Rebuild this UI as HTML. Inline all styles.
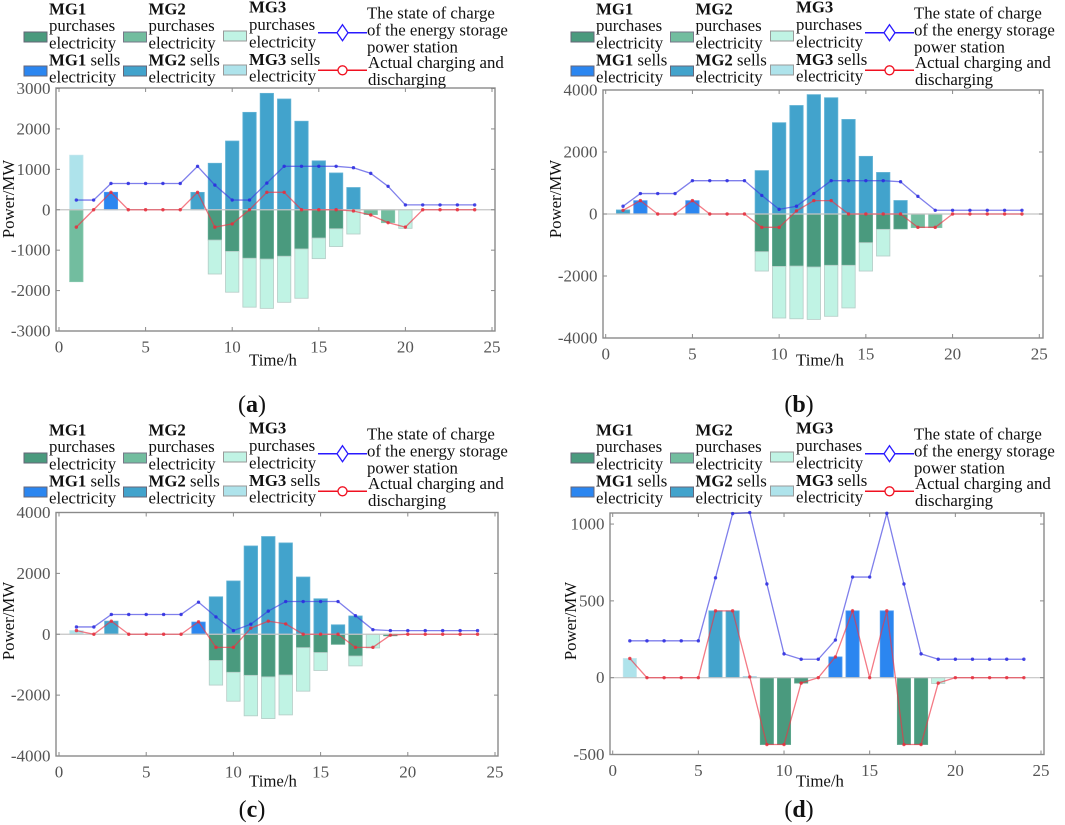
<!DOCTYPE html>
<html lang="en">
<head>
<meta charset="utf-8">
<title>Energy storage power charts</title>
<style>
html,body{margin:0;padding:0;background:#fff;}
svg{display:block;font-family:"Liberation Serif",serif;}
.lg{font-size:16.8px;fill:#111;}
.lg tspan.b{font-weight:bold;}
.axt{font-size:16.8px;fill:#111;}
.cap{font-size:24px;fill:#111;text-anchor:middle;}
.cap tspan{font-weight:bold;}
.tick{font-size:17px;fill:#555;}
#plots{filter:blur(0.35px);}
</style>
</head>
<body>
<svg id="figure" xmlns="http://www.w3.org/2000/svg" width="1065" height="825" viewBox="0 0 1065 825">
<rect width="1065" height="825" fill="#fff"/>
<g id="plots"></g>

<g transform="translate(0,0)">
  <g><rect x="24" y="32" width="23" height="10" fill="#4a9a7e" stroke="#667" stroke-width="1"/><text class="lg" x="49" y="14.3"><tspan class="b">MG1</tspan></text><text class="lg" x="49" y="31">purchases</text><text class="lg" x="49" y="48.3">electricity</text></g>
  <g><rect x="123.500" y="32" width="23" height="10" fill="#72bd9f" stroke="#778" stroke-width="1"/><text class="lg" x="148.500" y="14.3"><tspan class="b">MG2</tspan></text><text class="lg" x="148.500" y="31">purchases</text><text class="lg" x="148.500" y="48.3">electricity</text></g>
  <g><rect x="223.500" y="31" width="23" height="10" fill="#c0f3e4" stroke="#999" stroke-width="1"/><text class="lg" x="249" y="12.700"><tspan class="b">MG3</tspan></text><text class="lg" x="249" y="30">purchases</text><text class="lg" x="249" y="47.700">electricity</text></g>
  <g><rect x="24" y="66" width="23" height="10" fill="#2b86f0" stroke="#667" stroke-width="1"/><text class="lg" x="49" y="65.700"><tspan class="b">MG1</tspan> sells</text><text class="lg" x="49" y="82.300">electricity</text></g>
  <g><rect x="123.500" y="66" width="23" height="10" fill="#42a3cc" stroke="#667" stroke-width="1"/><text class="lg" x="148.500" y="65.700"><tspan class="b">MG2</tspan> sells</text><text class="lg" x="148.500" y="82.300">electricity</text></g>
  <g><rect x="223.500" y="65" width="23" height="10" fill="#aee3eb" stroke="#999" stroke-width="1"/><text class="lg" x="249" y="65"><tspan class="b">MG3</tspan> sells</text><text class="lg" x="249" y="81.700">electricity</text></g>
  <g><line x1="318" y1="32.700" x2="367" y2="32.700" stroke="#2a1aff" stroke-width="1.500"/><path d="M342.500 24.700 L348 32.700 L342.500 40.700 L337 32.700 Z" fill="#fff" stroke="#2a1aff" stroke-width="1.300"/><text class="lg" x="367" y="18.300">The state of charge</text><text class="lg" x="367" y="35.300">of the energy storage</text><text class="lg" x="367" y="52.300">power station</text></g>
  <g><line x1="318" y1="70.300" x2="367" y2="70.300" stroke="#f01020" stroke-width="1.500"/><circle cx="342.500" cy="70.300" r="4.500" fill="#fff" stroke="#f01020" stroke-width="1.300"/><text class="lg" x="368" y="68">Actual charging and</text><text class="lg" x="368" y="85">discharging</text></g>
</g>

<g transform="translate(547,0)">
  <g><rect x="24" y="32" width="23" height="10" fill="#4a9a7e" stroke="#667" stroke-width="1"/><text class="lg" x="49" y="14.3"><tspan class="b">MG1</tspan></text><text class="lg" x="49" y="31">purchases</text><text class="lg" x="49" y="48.3">electricity</text></g>
  <g><rect x="123.500" y="32" width="23" height="10" fill="#72bd9f" stroke="#778" stroke-width="1"/><text class="lg" x="148.500" y="14.3"><tspan class="b">MG2</tspan></text><text class="lg" x="148.500" y="31">purchases</text><text class="lg" x="148.500" y="48.3">electricity</text></g>
  <g><rect x="223.500" y="31" width="23" height="10" fill="#c0f3e4" stroke="#999" stroke-width="1"/><text class="lg" x="249" y="12.700"><tspan class="b">MG3</tspan></text><text class="lg" x="249" y="30">purchases</text><text class="lg" x="249" y="47.700">electricity</text></g>
  <g><rect x="24" y="66" width="23" height="10" fill="#2b86f0" stroke="#667" stroke-width="1"/><text class="lg" x="49" y="65.700"><tspan class="b">MG1</tspan> sells</text><text class="lg" x="49" y="82.300">electricity</text></g>
  <g><rect x="123.500" y="66" width="23" height="10" fill="#42a3cc" stroke="#667" stroke-width="1"/><text class="lg" x="148.500" y="65.700"><tspan class="b">MG2</tspan> sells</text><text class="lg" x="148.500" y="82.300">electricity</text></g>
  <g><rect x="223.500" y="65" width="23" height="10" fill="#aee3eb" stroke="#999" stroke-width="1"/><text class="lg" x="249" y="65"><tspan class="b">MG3</tspan> sells</text><text class="lg" x="249" y="81.700">electricity</text></g>
  <g><line x1="318" y1="32.700" x2="367" y2="32.700" stroke="#2a1aff" stroke-width="1.500"/><path d="M342.500 24.700 L348 32.700 L342.500 40.700 L337 32.700 Z" fill="#fff" stroke="#2a1aff" stroke-width="1.300"/><text class="lg" x="367" y="18.300">The state of charge</text><text class="lg" x="367" y="35.300">of the energy storage</text><text class="lg" x="367" y="52.300">power station</text></g>
  <g><line x1="318" y1="70.300" x2="367" y2="70.300" stroke="#f01020" stroke-width="1.500"/><circle cx="342.500" cy="70.300" r="4.500" fill="#fff" stroke="#f01020" stroke-width="1.300"/><text class="lg" x="368" y="68">Actual charging and</text><text class="lg" x="368" y="85">discharging</text></g>
</g>

<g transform="translate(0,421)">
  <g><rect x="24" y="32" width="23" height="10" fill="#4a9a7e" stroke="#667" stroke-width="1"/><text class="lg" x="49" y="14.3"><tspan class="b">MG1</tspan></text><text class="lg" x="49" y="31">purchases</text><text class="lg" x="49" y="48.3">electricity</text></g>
  <g><rect x="123.500" y="32" width="23" height="10" fill="#72bd9f" stroke="#778" stroke-width="1"/><text class="lg" x="148.500" y="14.3"><tspan class="b">MG2</tspan></text><text class="lg" x="148.500" y="31">purchases</text><text class="lg" x="148.500" y="48.3">electricity</text></g>
  <g><rect x="223.500" y="31" width="23" height="10" fill="#c0f3e4" stroke="#999" stroke-width="1"/><text class="lg" x="249" y="12.700"><tspan class="b">MG3</tspan></text><text class="lg" x="249" y="30">purchases</text><text class="lg" x="249" y="47.700">electricity</text></g>
  <g><rect x="24" y="66" width="23" height="10" fill="#2b86f0" stroke="#667" stroke-width="1"/><text class="lg" x="49" y="65.700"><tspan class="b">MG1</tspan> sells</text><text class="lg" x="49" y="82.300">electricity</text></g>
  <g><rect x="123.500" y="66" width="23" height="10" fill="#42a3cc" stroke="#667" stroke-width="1"/><text class="lg" x="148.500" y="65.700"><tspan class="b">MG2</tspan> sells</text><text class="lg" x="148.500" y="82.300">electricity</text></g>
  <g><rect x="223.500" y="65" width="23" height="10" fill="#aee3eb" stroke="#999" stroke-width="1"/><text class="lg" x="249" y="65"><tspan class="b">MG3</tspan> sells</text><text class="lg" x="249" y="81.700">electricity</text></g>
  <g><line x1="318" y1="32.700" x2="367" y2="32.700" stroke="#2a1aff" stroke-width="1.500"/><path d="M342.500 24.700 L348 32.700 L342.500 40.700 L337 32.700 Z" fill="#fff" stroke="#2a1aff" stroke-width="1.300"/><text class="lg" x="367" y="18.300">The state of charge</text><text class="lg" x="367" y="35.300">of the energy storage</text><text class="lg" x="367" y="52.300">power station</text></g>
  <g><line x1="318" y1="70.300" x2="367" y2="70.300" stroke="#f01020" stroke-width="1.500"/><circle cx="342.500" cy="70.300" r="4.500" fill="#fff" stroke="#f01020" stroke-width="1.300"/><text class="lg" x="368" y="68">Actual charging and</text><text class="lg" x="368" y="85">discharging</text></g>
</g>

<g transform="translate(547,421)">
  <g><rect x="24" y="32" width="23" height="10" fill="#4a9a7e" stroke="#667" stroke-width="1"/><text class="lg" x="49" y="14.3"><tspan class="b">MG1</tspan></text><text class="lg" x="49" y="31">purchases</text><text class="lg" x="49" y="48.3">electricity</text></g>
  <g><rect x="123.500" y="32" width="23" height="10" fill="#72bd9f" stroke="#778" stroke-width="1"/><text class="lg" x="148.500" y="14.3"><tspan class="b">MG2</tspan></text><text class="lg" x="148.500" y="31">purchases</text><text class="lg" x="148.500" y="48.3">electricity</text></g>
  <g><rect x="223.500" y="31" width="23" height="10" fill="#c0f3e4" stroke="#999" stroke-width="1"/><text class="lg" x="249" y="12.700"><tspan class="b">MG3</tspan></text><text class="lg" x="249" y="30">purchases</text><text class="lg" x="249" y="47.700">electricity</text></g>
  <g><rect x="24" y="66" width="23" height="10" fill="#2b86f0" stroke="#667" stroke-width="1"/><text class="lg" x="49" y="65.700"><tspan class="b">MG1</tspan> sells</text><text class="lg" x="49" y="82.300">electricity</text></g>
  <g><rect x="123.500" y="66" width="23" height="10" fill="#42a3cc" stroke="#667" stroke-width="1"/><text class="lg" x="148.500" y="65.700"><tspan class="b">MG2</tspan> sells</text><text class="lg" x="148.500" y="82.300">electricity</text></g>
  <g><rect x="223.500" y="65" width="23" height="10" fill="#aee3eb" stroke="#999" stroke-width="1"/><text class="lg" x="249" y="65"><tspan class="b">MG3</tspan> sells</text><text class="lg" x="249" y="81.700">electricity</text></g>
  <g><line x1="318" y1="32.700" x2="367" y2="32.700" stroke="#2a1aff" stroke-width="1.500"/><path d="M342.500 24.700 L348 32.700 L342.500 40.700 L337 32.700 Z" fill="#fff" stroke="#2a1aff" stroke-width="1.300"/><text class="lg" x="367" y="18.300">The state of charge</text><text class="lg" x="367" y="35.300">of the energy storage</text><text class="lg" x="367" y="52.300">power station</text></g>
  <g><line x1="318" y1="70.300" x2="367" y2="70.300" stroke="#f01020" stroke-width="1.500"/><circle cx="342.500" cy="70.300" r="4.500" fill="#fff" stroke="#f01020" stroke-width="1.300"/><text class="lg" x="368" y="68">Actual charging and</text><text class="lg" x="368" y="85">discharging</text></g>
</g>

<text class="axt" text-anchor="middle" transform="translate(14,199) rotate(-90)">Power/MW</text>
<text class="axt" text-anchor="middle" transform="translate(561,199) rotate(-90)">Power/MW</text>
<text class="axt" text-anchor="middle" transform="translate(14,621) rotate(-90)">Power/MW</text>
<text class="axt" text-anchor="middle" transform="translate(576,621) rotate(-90)">Power/MW</text>

<text class="axt" text-anchor="middle" x="273" y="365.500">Time/h</text>
<text class="axt" text-anchor="middle" x="820" y="365.500">Time/h</text>
<text class="axt" text-anchor="middle" x="273" y="786.500">Time/h</text>
<text class="axt" text-anchor="middle" x="820" y="786.500">Time/h</text>

<text class="cap" x="252" y="412">(<tspan>a</tspan>)</text>
<text class="cap" x="799" y="412">(<tspan>b</tspan>)</text>
<text class="cap" x="252" y="817">(<tspan>c</tspan>)</text>
<text class="cap" x="799" y="817">(<tspan>d</tspan>)</text>
</svg>

<script>
// Shared categories and ticks
const hours = [1,2,3,4,5,6,7,8,9,10,11,12,13,14,15,16,17,18,19,20,21,22,23,24];
const xTicks = [0,5,10,15,20,25];

// Panel (a)
const aYTicks = [-3000,-2000,-1000,0,1000,2000,3000];
const aMg1Buy  = [0,0,0,0,0,0,0,0,-750,-1030,-1200,-1220,-1150,-970,-700,-470,0,0,0,0,0,0,0,0];
const aMg2Buy  = [-1780,0,0,0,0,0,0,0,0,0,0,0,0,0,0,0,0,-120,-320,0,0,0,0,0];
const aMg3Buy  = [0,0,0,0,0,0,0,0,-840,-1010,-1210,-1220,-1140,-1220,-510,-440,-600,0,0,-460,0,0,0,0];
const aMg1Sell = [0,0,432,0,0,0,0,0,0,0,0,0,0,0,0,0,0,0,0,0,0,0,0,0];
const aMg2Sell = [0,0,0,0,0,0,0,430,1150,1700,2410,2880,2740,2190,1210,910,550,0,0,0,0,0,0,0];
const aMg3Sell = [1350,0,0,0,0,0,0,0,0,0,0,0,0,0,0,0,0,0,0,0,0,0,0,0];
const aSoc     = [240,240,650,650,650,650,650,1075,610,240,240,660,1075,1075,1075,1075,1040,900,580,120,120,120,120,120];
const aCharge  = [-430,0,432,0,0,0,0,432,-430,-350,0,432,432,0,0,0,-30,-130,-320,-430,0,0,0,0];

// Panel (b)
const bYTicks = [-4000,-2000,0,2000,4000];
const bMg1Buy  = [0,0,0,0,0,0,0,0,-1215,-1690,-1680,-1710,-1655,-1655,-925,-495,-480,0,0,0,0,0,0,0];
const bMg2Buy  = [0,0,0,0,0,0,0,0,0,0,0,0,0,0,0,0,0,-440,-440,0,0,0,0,0];
const bMg3Buy  = [0,0,0,0,0,0,0,0,-625,-1665,-1700,-1690,-1645,-1375,-915,-860,0,0,0,0,0,0,0,0];
const bMg1Sell = [0,430,0,0,430,0,0,0,0,0,0,0,0,0,0,0,0,0,0,0,0,0,0,0];
const bMg2Sell = [130,0,0,0,0,0,0,0,1400,2945,3500,3850,3750,3050,1860,1340,435,0,0,0,0,0,0,0];
const bMg3Sell = [0,0,0,0,0,0,0,0,0,0,0,0,0,0,0,0,0,0,0,0,0,0,0,0];
const bSoc     = [250,660,660,660,1075,1075,1075,1075,600,150,250,660,1075,1075,1075,1075,1040,570,120,120,120,120,120,120];
const bCharge  = [120,432,0,0,432,0,0,0,-430,-430,100,432,432,0,0,0,0,-430,-430,0,0,0,0,0];

// Panel (c)
const cYTicks = [-4000,-2000,0,2000,4000];
const cMg1Buy  = [0,0,0,0,0,0,0,0,-860,-1250,-1350,-1400,-1340,-440,-600,-330,-715,0,-50,0,0,0,0,0];
const cMg2Buy  = [0,0,0,0,0,0,0,0,0,0,0,0,0,0,0,0,0,0,0,0,0,0,0,0];
const cMg3Buy  = [0,0,0,0,0,0,0,0,-810,-950,-1330,-1370,-1310,-1430,-590,0,-325,-450,0,0,0,0,0,0];
const cMg1Sell = [0,0,0,0,0,0,0,400,0,0,0,0,0,0,0,0,0,0,0,0,0,0,0,0];
const cMg2Sell = [0,0,430,0,0,0,0,0,1230,1750,2900,3210,3000,1880,1165,310,600,0,0,0,0,0,0,0];
const cMg3Sell = [120,0,0,0,0,0,0,0,0,0,0,0,0,0,0,0,0,0,0,0,0,0,0,0];
const cSoc     = [240,240,650,650,650,650,650,1055,570,120,330,760,1075,1075,1075,1075,610,150,120,120,120,120,120,120];
const cCharge  = [120,0,430,0,0,0,0,410,-430,-430,200,430,340,0,0,0,-430,-430,-30,0,0,0,0,0];

// Panel (d)
const dYTicks = [-500,0,500,1000];
const dMg1Buy  = [0,0,0,0,0,0,0,0,-435,-435,-35,0,0,0,0,0,-435,-435,0,0,0,0,0,0];
const dMg2Buy  = [0,0,0,0,0,0,0,0,0,0,0,0,0,0,0,0,0,0,0,0,0,0,0,0];
const dMg3Buy  = [0,0,0,0,0,0,0,0,0,0,0,0,0,0,0,0,0,0,-38,0,0,0,0,0];
const dMg1Sell = [0,0,0,0,0,0,0,0,0,0,0,0,135,435,0,435,0,0,0,0,0,0,0,0];
const dMg2Sell = [0,0,0,0,0,435,435,5,0,0,0,0,0,0,0,0,0,0,0,0,0,0,0,0];
const dMg3Sell = [125,0,0,0,0,0,0,0,0,0,0,0,0,0,0,0,0,0,0,0,0,0,0,0];
const dSoc     = [240,240,240,240,240,650,1068,1075,610,155,120,120,245,655,655,1070,610,155,120,120,120,120,120,120];
const dCharge  = [125,0,0,0,0,435,435,5,-435,-435,-35,0,135,435,0,435,-435,-435,-35,0,0,0,0,0];

const NS = 'http://www.w3.org/2000/svg';
const plots = document.getElementById('plots');

function make(parent, tag, attrs) {
  const el = document.createElementNS(NS, tag);
  for (const k in attrs) el.setAttribute(k, attrs[k]);
  parent.appendChild(el);
  return el;
}

function drawPanel(id, layout, yTicks, buy, sell, soc, charge) {
  const xScale = v => layout.x0 + v * (layout.x25 - layout.x0) / 25;
  const yScale = v => layout.yAtTop + (layout.vTop - v) * (layout.yAtBottom - layout.yAtTop) / (layout.vTop - layout.vBottom);
  const barW = 0.77 * (layout.x25 - layout.x0) / 25;

  const panel = make(plots, 'g', {});
  
  

  const buyStyles = [['#4a9a7e', '#5fa78e'], ['#72bd9f', '#86c7ad'], ['#c0f3e4', '#b4ccc6']];
  const sellStyles = [['#2b86f0', '#4d99f0'], ['#42a3cc', '#62b2d4'], ['#aee3eb', '#c2e6ec']];
  const seriesKeys = ['mg1', 'mg2', 'mg3'];

  function drawStack(series, styles, kind) {
    series.forEach((values, s) => {
      hours.forEach((h, i) => {
        const v = values[i];
        if (!v) return;
        let base = 0;
        for (let p = 0; p < s; p++) base += series[p][i];
        const y1 = yScale(base);
        const y2 = yScale(base + v);
        const bar = make(panel, 'rect', {
          x: xScale(h) - barW / 2,
          y: Math.min(y1, y2),
          width: barW,
          height: Math.abs(y2 - y1),
          fill: styles[s][0],
          stroke: styles[s][1],
          'stroke-width': 0.8
        });
        
        
      });
    });
  }
  drawStack(buy, buyStyles, 'purchase');
  drawStack(sell, sellStyles, 'sell');

  const zero = make(panel, 'line', { x1: layout.left, x2: layout.right, y1: yScale(0), y2: yScale(0), stroke: '#c4c4c4', 'stroke-width': 1.2 });
  
  

  const box = make(panel, 'rect', { x: layout.left, y: layout.top, width: layout.right - layout.left, height: layout.bottom - layout.top, fill: 'none', stroke: '#8a8a8a', 'stroke-width': 1.4 });
  
  

  xTicks.forEach(t => {
    const x = xScale(t);
    const b = make(panel, 'line', { x1: x, x2: x, y1: layout.bottom, y2: layout.bottom - 4, stroke: '#8a8a8a', 'stroke-width': 1 });
    
    
    const u = make(panel, 'line', { x1: x, x2: x, y1: layout.top, y2: layout.top + 4, stroke: '#8a8a8a', 'stroke-width': 1 });
    
    
    const label = make(panel, 'text', { x: x, y: layout.bottom + 21.5, 'text-anchor': 'middle', class: 'tick' });
    
    
    label.textContent = t;
  });

  yTicks.forEach(t => {
    const y = yScale(t);
    const l = make(panel, 'line', { x1: layout.left, x2: layout.left + 4, y1: y, y2: y, stroke: '#8a8a8a', 'stroke-width': 1 });
    
    
    const r = make(panel, 'line', { x1: layout.right, x2: layout.right - 4, y1: y, y2: y, stroke: '#8a8a8a', 'stroke-width': 1 });
    
    
    const label = make(panel, 'text', { x: layout.left - 5.5, y: y + 5.5, 'text-anchor': 'end', class: 'tick' });
    
    
    label.textContent = t;
  });

  function drawLine(values, lineColor, dotColor, key) {
    const pts = hours.map((h, i) => xScale(h) + ',' + yScale(values[i])).join(' ');
    const line = make(panel, 'polyline', { points: pts, fill: 'none', stroke: lineColor, 'stroke-width': 1.3, 'stroke-opacity': 0.65 });
    
    
    hours.forEach((h, i) => {
      const dot = make(panel, 'circle', { cx: xScale(h), cy: yScale(values[i]), r: 1.7, fill: dotColor, 'fill-opacity': 0.85 });
      
      
    });
  }
  drawLine(soc, '#3a3ae0', '#2a2ae0', 'state-of-charge');
  drawLine(charge, '#ee3344', '#e62e3c', 'actual-charging');
}

drawPanel('a', { left: 56, right: 495, top: 88, bottom: 331, x0: 59, x25: 492, vTop: 3000, vBottom: -3000, yAtTop: 88.5, yAtBottom: 331 },
  aYTicks, [aMg1Buy, aMg2Buy, aMg3Buy], [aMg1Sell, aMg2Sell, aMg3Sell], aSoc, aCharge);
drawPanel('b', { left: 603, right: 1043, top: 90, bottom: 338, x0: 605.7, x25: 1039.3, vTop: 4000, vBottom: -4000, yAtTop: 90, yAtBottom: 338 },
  bYTicks, [bMg1Buy, bMg2Buy, bMg3Buy], [bMg1Sell, bMg2Sell, bMg3Sell], bSoc, bCharge);
drawPanel('c', { left: 56, right: 498, top: 512.5, bottom: 756, x0: 59, x25: 495, vTop: 4000, vBottom: -4000, yAtTop: 512.5, yAtBottom: 756 },
  cYTicks, [cMg1Buy, cMg2Buy, cMg3Buy], [cMg1Sell, cMg2Sell, cMg3Sell], cSoc, cCharge);
drawPanel('d', { left: 610, right: 1044, top: 513, bottom: 754.5, x0: 612.7, x25: 1041, vTop: 1072, vBottom: -500, yAtTop: 513, yAtBottom: 754.5 },
  dYTicks, [dMg1Buy, dMg2Buy, dMg3Buy], [dMg1Sell, dMg2Sell, dMg3Sell], dSoc, dCharge);
</script>
</body>
</html>
